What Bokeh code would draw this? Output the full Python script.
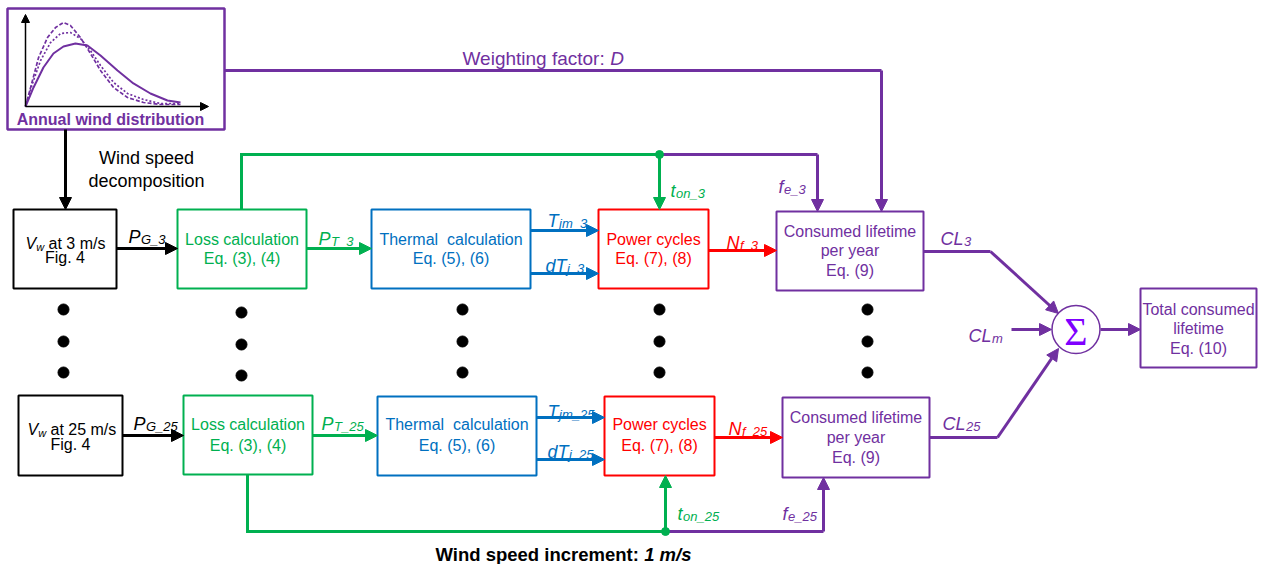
import math
from bokeh.plotting import figure
from bokeh.models import Range1d, Arrow, NormalHead
from bokeh.core.properties import value
from bokeh.embed import file_html
from bokeh.resources import INLINE

# ---------------- content (values) ----------------
wind_speeds = ["3", "25"]                      # first and last decomposed wind speed (m/s)
speed_unit = "m/s"
increment_label = "Wind speed increment: "
increment_value = "1 m/s"
source_fig = "Fig. 4"
stage_titles = ["Loss calculation", "Thermal\u00a0 calculation", "Power cycles"]
stage_equations = ["Eq. (3), (4)", "Eq. (5), (6)", "Eq. (7), (8)"]
lifetime_lines = ["Consumed lifetime", "per year", "Eq. (9)"]
total_lines = ["Total consumed", "lifetime", "Eq. (10)"]
decomp_lines = ["Wind speed", "decomposition"]
dist_title = "Annual wind distribution"
weighting_text = "Weighting factor: "
weighting_symbol = "D"
signal_main = {"PG": "P", "PT": "P", "Tjm": "T", "dTj": "dT", "Nf": "N", "ton": "t", "fe": "f", "CL": "CL"}
signal_sub = {"PG": "G_", "PT": "T_", "Tjm": "jm_", "dTj": "j_", "Nf": "f_", "ton": "on_", "fe": "e_", "CL": ""}
cl_m_sub = "m"
sum_symbol = "\u03a3"

# wind distribution sketch (normalised wind speed, normalised probability)
dist_solid_x = [0, .045, .10, .156, .212, .279, .346, .419, .514, .603, .698, .793, .866]
dist_solid_y = [0, .209, .429, .582, .659, .692, .670, .560, .396, .253, .143, .066, .044]
dist_dash_x = [0, .039, .073, .123, .168, .212, .251, .307, .363, .419, .492, .570, .659, .754, .866]
dist_dash_y = [0, .286, .538, .758, .868, .923, .890, .758, .582, .396, .209, .099, .044, .022, .022]
dist_dot_x = [0, .039, .084, .140, .196, .251, .307, .363, .419, .492, .570, .659, .754, .866]
dist_dot_y = [0, .253, .505, .703, .802, .813, .747, .615, .451, .264, .143, .077, .033, .033]

# ---------------- styles ----------------
FONT = "Liberation Sans"
SERIF = "Liberation Serif"
PURPLE = "#7030a0"
GREEN = "#00b050"
BLUE = "#0070c0"
RED = "#ff0000"
BLACK = "#000000"
VIOLET = "#7f00ff"
CW = {"P": .667, "T": .611, "d": .556, "N": .722, "t": .278, "f": .278, "C": .722, "L": .556, "V": .667}

# ---------------- layout (pixel positions) ----------------
rows = [
    dict(vw=(13, 116, 209, 288), vw_t=(25, 243, 257), pg_y=248, pg_l=(128, 236),
         loss=(177, 306, 209, 288), st_y=(239, 258), pt_y=248, pt_l=(318, 238),
         therm=(371, 530, 209, 288), tjm_y=230, tjm_l=(547, 220), dtj_y=273, dtj_l=(545, 265),
         power=(598, 708, 209, 288), nf_y=250, nf_l=(726, 242),
         life=(776, 923, 211, 290), life_y=(231, 250, 270),
         bus_y=154, bus_x=241, junc=659, ton_l=(670, 190), fe_x=817, fe_l=(778, 186),
         cl_y=251, cl_bend=990, cl_l=(940, 238), cl_tip=(1058, 313)),
    dict(vw=(18, 122, 395, 475), vw_t=(27, 429, 444), pg_y=435, pg_l=(133, 423),
         loss=(183, 312, 395, 474), st_y=(424, 445), pt_y=435, pt_l=(321, 423),
         therm=(377, 536, 396, 475), tjm_y=417, tjm_l=(547, 411), dtj_y=459, dtj_l=(547, 451),
         power=(604, 714, 396, 475), nf_y=437, nf_l=(728, 428),
         life=(782, 929, 397, 477), life_y=(417, 437, 457),
         bus_y=531, bus_x=247, junc=665, ton_l=(677, 513), fe_x=823, fe_l=(782, 513),
         cl_y=437, cl_bend=997, cl_l=(942, 423), cl_tip=(1058, 348)),
]

p = figure(width=1258, height=564, x_range=Range1d(0, 1258), y_range=Range1d(564, 0),
           output_backend="svg", toolbar_location=None, x_axis_type=None, y_axis_type=None,
           min_border=0)
p.grid.visible = False
p.outline_line_color = None
p.background_fill_color = "white"
p.border_fill_color = "white"


def box(b, color, lw=2):
    x0, x1, y0, y1 = b
    p.quad(left=[x0], right=[x1], top=[y0], bottom=[y1], fill_color="white",
           line_color=color, line_width=lw)


def txt(x, y, s, color, size=16, style="normal", align="center", baseline="middle", font=FONT):
    p.text(x=[x], y=[y], text=[s], text_color=color, text_font=value(font),
           text_font_size=f"{size}px", text_font_style=style, text_align=align,
           text_baseline=baseline)


def line(xs, ys, color, lw=3):
    p.line(x=xs, y=ys, line_color=color, line_width=lw, line_join="miter")


def arrow(x0, y0, x1, y1, color, lw=3, size=12):
    p.add_layout(Arrow(end=NormalHead(size=size, fill_color=color, line_color=color, line_width=1),
                       x_start=x0, y_start=y0, x_end=x1, y_end=y1,
                       line_color=color, line_width=lw))


def width_em(s):
    return sum(CW.get(c, .556) for c in s)


def signal(pos, main, sub, color, msize=18, ssize=13):
    x, y = pos
    txt(x, y, main, color, msize, "italic", "left", "alphabetic")
    txt(x + width_em(main) * msize + 0.5, y + 3, sub, color, ssize, "italic", "left", "alphabetic")


# ---- annual wind distribution icon ----
WB = (7, 224, 8, 129)
box(WB, PURPLE, 2.5)
ox, oy, ax_w, ax_h = 25, 106, 179, 91
arrow(ox, oy, ox, 14, BLACK, 1.5, 8)
arrow(ox, oy, 208, oy, BLACK, 1.5, 8)
def icon(xs, ys):
    return [ox + v * ax_w for v in xs], [oy - v * ax_h for v in ys]
sx, sy = icon(dist_solid_x, dist_solid_y)
p.line(sx, sy, line_color=PURPLE, line_width=2)
dx, dy = icon(dist_dash_x, dist_dash_y)
p.line(dx, dy, line_color=PURPLE, line_width=1.7, line_dash="4 2")
tx, ty = icon(dist_dot_x, dist_dot_y)
p.line(tx, ty, line_color=PURPLE, line_width=1.7, line_dash="2 2")
txt(110, 119, dist_title, PURPLE, 16, "bold")

# wind speed decomposition
arrow(65, 129, 65, 209, BLACK, 3, 12)
txt(146, 157, decomp_lines[0], BLACK, 18)
txt(146, 180, decomp_lines[1], BLACK, 18)

# weighting factor
line([224, 881], [70, 70], PURPLE)
arrow(881, 70, 881, 211, PURPLE)
txt(462, 58, weighting_text, PURPLE, 19, "normal", "left", "alphabetic")
txt(462 + 7.781 * 19, 58, weighting_symbol, PURPLE, 19, "italic", "left", "alphabetic")

# ---- rows ----
for r, ws in zip(rows, wind_speeds):
    # source box
    box(r["vw"], BLACK)
    vx, vy, fy = r["vw_t"]
    txt(vx, vy, "V", BLACK, 16, "italic", "left", "alphabetic")
    txt(vx + 10.7, vy + 3, "w", BLACK, 11, "italic", "left", "alphabetic")
    txt(vx + 10.7 + 7.9 + 4.4, vy, f"at {ws} {speed_unit}", BLACK, 16, "normal", "left", "alphabetic")
    cx = (r["vw"][0] + r["vw"][1]) / 2
    txt(cx, fy, source_fig, BLACK, 16)

    arrow(r["vw"][1], r["pg_y"], r["loss"][0], r["pg_y"], BLACK)
    signal(r["pg_l"], signal_main["PG"], signal_sub["PG"] + ws, BLACK)

    # stage boxes
    for b, col, title, eq in zip([r["loss"], r["therm"], r["power"]], [GREEN, BLUE, RED],
                                 stage_titles, stage_equations):
        box(b, col)
        bx = (b[0] + b[1]) / 2
        txt(bx, r["st_y"][0], title, col, 16)
        txt(bx, r["st_y"][1], eq, col, 16)

    arrow(r["loss"][1], r["pt_y"], r["therm"][0], r["pt_y"], GREEN)
    signal(r["pt_l"], signal_main["PT"], signal_sub["PT"] + ws, GREEN)

    arrow(r["therm"][1], r["tjm_y"], r["power"][0], r["tjm_y"], BLUE)
    arrow(r["therm"][1], r["dtj_y"], r["power"][0], r["dtj_y"], BLUE)
    signal(r["tjm_l"], signal_main["Tjm"], signal_sub["Tjm"] + ws, BLUE)
    signal(r["dtj_l"], signal_main["dTj"], signal_sub["dTj"] + ws, BLUE)

    arrow(r["power"][1], r["nf_y"], r["life"][0], r["nf_y"], RED)
    signal(r["nf_l"], signal_main["Nf"], signal_sub["Nf"] + ws, RED)

    box(r["life"], PURPLE)
    lx = (r["life"][0] + r["life"][1]) / 2
    for s, yy in zip(lifetime_lines, r["life_y"]):
        txt(lx, yy, s, PURPLE, 16)

    # on-time bus (green) and fe bus (purple)
    top_row = r["bus_y"] < r["loss"][2]
    loss_edge = r["loss"][2] if top_row else r["loss"][3]
    power_edge = r["power"][2] if top_row else r["power"][3]
    life_edge = r["life"][2] if top_row else r["life"][3]
    line([r["bus_x"], r["bus_x"], r["junc"]], [loss_edge, r["bus_y"], r["bus_y"]], GREEN)
    line([r["junc"], r["fe_x"]], [r["bus_y"], r["bus_y"]], PURPLE)
    arrow(r["junc"], r["bus_y"], r["junc"], power_edge, GREEN)
    arrow(r["fe_x"], r["bus_y"], r["fe_x"], life_edge, PURPLE)
    p.scatter([r["junc"]], [r["bus_y"]], size=8, marker="circle", fill_color=GREEN, line_color=GREEN)
    signal(r["ton_l"], signal_main["ton"], signal_sub["ton"] + ws, GREEN)
    signal(r["fe_l"], signal_main["fe"], signal_sub["fe"] + ws, PURPLE)

    # consumed lifetime to sum
    line([r["life"][1], r["cl_bend"]], [r["cl_y"], r["cl_y"]], PURPLE)
    arrow(r["cl_bend"], r["cl_y"], r["cl_tip"][0], r["cl_tip"][1], PURPLE)
    signal(r["cl_l"], signal_main["CL"], signal_sub["CL"] + ws, PURPLE)

# ---- ellipsis dots ----
dot_cols = [63, 241, 462, 659, 867]
dot_rows = [[309, 341, 372], [312, 344, 375], [309, 341, 372], [309, 341, 372], [309, 341, 372]]
dxs, dys = [], []
for c, ys in zip(dot_cols, dot_rows):
    for yy in ys:
        dxs.append(c)
        dys.append(yy)
p.scatter(dxs, dys, size=11, marker="circle", fill_color=BLACK, line_color=BLACK)

# ---- summation ----
SC = (1075.5, 329)
p.scatter([SC[0]], [SC[1]], size=48, marker="circle", fill_color="white", line_color=PURPLE, line_width=1.5)
txt(SC[0], SC[1] + 2, sum_symbol, VIOLET, 40, font=SERIF)
signal((968, 335), "CL", cl_m_sub, PURPLE)
arrow(1011, 329, 1051, 329, PURPLE)
arrow(1100, 329, 1140, 329, PURPLE)
TB = (1140, 1256, 288, 367)
box(TB, PURPLE)
for s, yy in zip(total_lines, [309, 328, 348]):
    txt((TB[0] + TB[1]) / 2, yy, s, PURPLE, 16)

# ---- bottom note ----
txt(435, 554, increment_label, BLACK, 18.5, "bold", "left", "alphabetic")
txt(435 + 11.28 * 18.5, 554, increment_value, BLACK, 18.5, "bold italic", "left", "alphabetic")

open("out.html", "w").write(file_html(p, INLINE))
